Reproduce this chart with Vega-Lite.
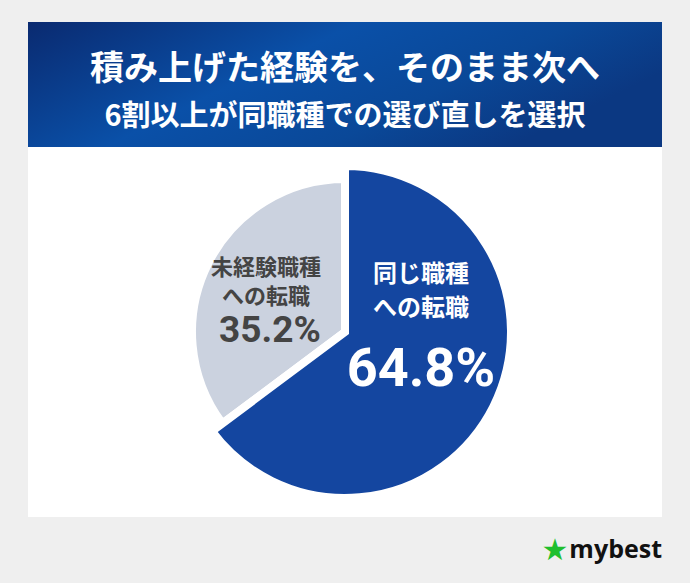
{
  "$schema": "https://vega.github.io/schema/vega-lite/v6.json",
  "background": "#efefef",
  "padding": {"left": 28, "right": 28, "top": 22, "bottom": 0},
  "spacing": 0,
  "config": {"view": {"stroke": null}, "concat": {"spacing": 0}, "font": "Noto Sans CJK JP"},
  "vconcat": [
    {
      "width": 634,
      "height": 125,
      "view": {
        "stroke": null,
        "fill": {
          "gradient": "linear", "x1": 0, "y1": 0, "x2": 1, "y2": 0.4,
          "stops": [
            {"offset": 0, "color": "#0a2a70"},
            {"offset": 0.45, "color": "#0a50a8"},
            {"offset": 0.75, "color": "#0a4898"},
            {"offset": 1, "color": "#0b3882"}
          ]
        }
      },
      "data": {"values": [{"line1": "積み上げた経験を、そのまま次へ", "line2": "6割以上が同職種での選び直しを選択"}]},
      "layer": [
        {
          "mark": {"type": "text", "color": "white", "fontSize": 34, "fontWeight": "bold", "baseline": "middle", "dy": -15, "font": "Noto Sans CJK JP"},
          "encoding": {"text": {"field": "line1", "type": "nominal"}}
        },
        {
          "mark": {"type": "text", "color": "white", "fontSize": 29, "fontWeight": "bold", "baseline": "middle", "dy": 32, "font": "Noto Sans CJK JP"},
          "encoding": {"text": {"field": "line2", "type": "nominal"}}
        }
      ]
    },
    {
      "width": 634,
      "height": 370,
      "view": {"fill": "white", "stroke": null},
      "data": {"values": [
        {"category": "同じ職種への転職", "name1": "同じ職種", "name2": "への転職", "label": "64.8%", "value": 64.8},
        {"category": "未経験職種への転職", "name1": "未経験職種", "name2": "への転職", "label": "35.2%", "value": 35.2}
      ]},
      "layer": [
        {
          "mark": {"type": "arc", "radius": 153, "stroke": "white", "strokeWidth": 8},
          "encoding": {
            "theta": {"field": "value", "type": "quantitative"},
            "order": {"field": "value", "sort": "descending"},
            "color": {"field": "category", "type": "nominal", "legend": null,
              "scale": {"domain": ["同じ職種への転職", "未経験職種への転職"], "range": ["#1446a0", "#cbd2df"]}}
          }
        },
        {
          "mark": {"type": "arc", "radius": 166, "stroke": "white", "strokeWidth": 8},
          "encoding": {
            "theta": {"field": "value", "type": "quantitative"},
            "order": {"field": "value", "sort": "descending"},
            "color": {"field": "category", "type": "nominal", "legend": null,
              "scale": {"domain": ["同じ職種への転職", "未経験職種への転職"], "range": ["#1446a0", "#cbd2df"]}},
            "opacity": {"condition": {"test": "datum.category === '未経験職種への転職'", "value": 0}, "value": 1}
          }
        },
        {
          "transform": [{"filter": "datum.category === '同じ職種への転職'"}],
          "mark": {"type": "text", "color": "white", "fontSize": 24, "fontWeight": "bold", "baseline": "middle", "dx": 76, "dy": -57, "font": "Noto Sans CJK JP"},
          "encoding": {"text": {"field": "name1", "type": "nominal"}}
        },
        {
          "transform": [{"filter": "datum.category === '同じ職種への転職'"}],
          "mark": {"type": "text", "color": "white", "fontSize": 24, "fontWeight": "bold", "baseline": "middle", "dx": 76, "dy": -23, "font": "Noto Sans CJK JP"},
          "encoding": {"text": {"field": "name2", "type": "nominal"}}
        },
        {
          "transform": [{"filter": "datum.category === '同じ職種への転職'"}],
          "mark": {"type": "text", "color": "white", "fontSize": 54, "fontWeight": "bold", "baseline": "middle", "dx": 76, "dy": 38, "font": "Roboto"},
          "encoding": {"text": {"field": "label", "type": "nominal"}}
        },
        {
          "transform": [{"filter": "datum.category === '未経験職種への転職'"}],
          "mark": {"type": "text", "color": "#444444", "fontSize": 22, "fontWeight": "bold", "baseline": "middle", "dx": -79, "dy": -64, "font": "Noto Sans CJK JP"},
          "encoding": {"text": {"field": "name1", "type": "nominal"}}
        },
        {
          "transform": [{"filter": "datum.category === '未経験職種への転職'"}],
          "mark": {"type": "text", "color": "#444444", "fontSize": 22, "fontWeight": "bold", "baseline": "middle", "dx": -79, "dy": -35, "font": "Noto Sans CJK JP"},
          "encoding": {"text": {"field": "name2", "type": "nominal"}}
        },
        {
          "transform": [{"filter": "datum.category === '未経験職種への転職'"}],
          "mark": {"type": "text", "color": "#444444", "fontSize": 37, "fontWeight": "bold", "baseline": "middle", "dx": -75, "dy": -1, "font": "Roboto"},
          "encoding": {"text": {"field": "label", "type": "nominal"}}
        }
      ]
    },
    {
      "width": 634,
      "height": 66,
      "data": {"values": [{"brand": "mybest", "star": "★"}]},
      "layer": [
        {
          "mark": {"type": "text", "color": "#1fbf2e", "fontSize": 30, "baseline": "middle", "dx": 210, "dy": 1, "font": "DejaVu Sans"},
          "encoding": {"text": {"field": "star", "type": "nominal"}}
        },
        {
          "mark": {"type": "text", "color": "#111111", "fontSize": 25, "fontWeight": "bold", "align": "right", "baseline": "middle", "dx": 317, "font": "Open Sans"},
          "encoding": {"text": {"field": "brand", "type": "nominal"}}
        }
      ]
    }
  ]
}
